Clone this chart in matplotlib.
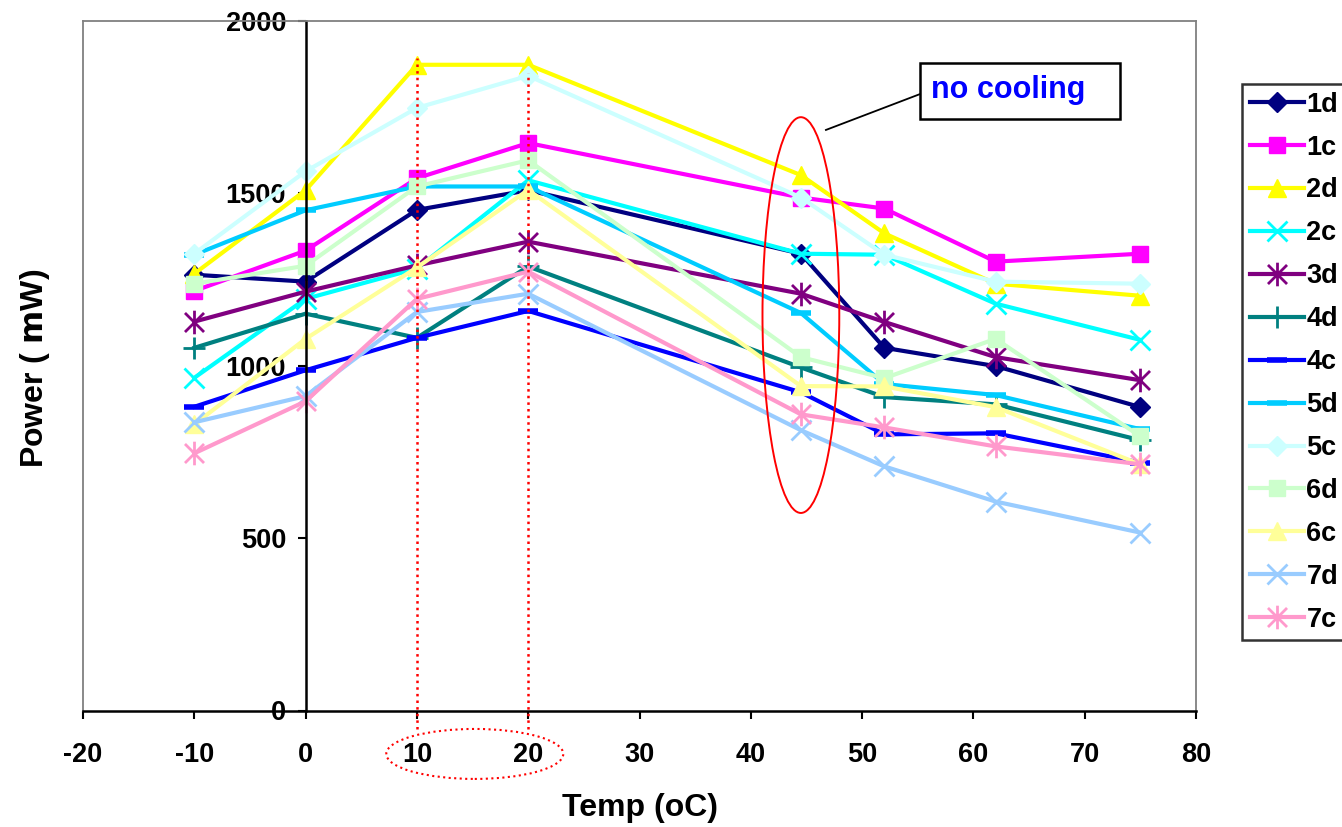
import matplotlib
matplotlib.use("Agg")
import matplotlib.pyplot as plt
from matplotlib.path import Path
from matplotlib.patches import Ellipse, Rectangle
from matplotlib.lines import Line2D

plt.rcParams['font.family'] = ['Liberation Sans', 'DejaVu Sans']
plt.rcParams['font.weight'] = 'bold'

# Measurement temperatures (oC)
temps = [-10, 0, 10, 20, 44.5, 52, 62, 75]

# Output power per device (mW)
p_1d = [1264, 1244, 1452, 1509, 1325, 1052, 999, 880]
p_1c = [1217, 1334, 1544, 1646, 1488, 1456, 1302, 1325]
p_2d = [1267, 1509, 1873, 1873, 1553, 1384, 1238, 1203]
p_2c = [965, 1194, 1282, 1538, 1325, 1322, 1180, 1075]
p_3d = [1128, 1215, 1291, 1360, 1209, 1127, 1025, 958]
p_4d = [1052, 1151, 1081, 1288, 995, 909, 888, 784]
p_4c = [881, 987, 1081, 1159, 923, 801, 804, 719]
p_5d = [1322, 1451, 1520, 1520, 1153, 947, 915, 816]
p_5c = [1325, 1564, 1748, 1841, 1488, 1322, 1244, 1238]
p_6d = [1238, 1290, 1520, 1596, 1025, 964, 1078, 795]
p_6c = [830, 1078, 1285, 1510, 941, 940, 880, 714]
p_7d = [836, 912, 1156, 1209, 813, 708, 606, 516]
p_7c = [746, 897, 1194, 1273, 859, 821, 766, 714]

labels = ['1d', '1c', '2d', '2c', '3d', '4d', '4c', '5d', '5c', '6d', '6c', '7d', '7c']
series = [p_1d, p_1c, p_2d, p_2c, p_3d, p_4d, p_4c, p_5d, p_5c, p_6d, p_6c, p_7d, p_7c]

x_ticks = [-20, -10, 0, 10, 20, 30, 40, 50, 60, 70, 80]
y_ticks = [0, 500, 1000, 1500, 2000]

# asterisk: an X with a vertical bar through it
asterisk = Path([(-0.5, -0.5), (0.5, 0.5), (-0.5, 0.5), (0.5, -0.5), (0, -0.62), (0, 0.62)],
                [Path.MOVETO, Path.LINETO, Path.MOVETO, Path.LINETO, Path.MOVETO, Path.LINETO])

styles = {
    '1d': dict(color='#000080', marker='D', ms=10),
    '1c': dict(color='#FF00FF', marker='s', ms=12),
    '2d': dict(color='#FFFF00', marker='^', ms=13),
    '2c': dict(color='#00FFFF', marker='x', ms=14, mew=2),
    '3d': dict(color='#800080', marker=asterisk, ms=17, mew=2),
    '4d': dict(color='#008080', marker='+', ms=16, mew=2),
    '4c': dict(color='#0000FF', marker='_', ms=14, mew=4),
    '5d': dict(color='#00CCFF', marker='_', ms=14, mew=4),
    '5c': dict(color='#CCFFFF', marker='D', ms=10),
    '6d': dict(color='#CCFFCC', marker='s', ms=12),
    '6c': dict(color='#FFFF99', marker='^', ms=13),
    '7d': dict(color='#99CCFF', marker='x', ms=14, mew=2),
    '7c': dict(color='#FF99CC', marker=asterisk, ms=17, mew=2),
}

fig = plt.figure(figsize=(13.42, 8.27), dpi=100)
W, H = 1342, 827
ax = fig.add_axes([83 / W, 1 - 710.5 / H, (1196 - 83) / W, (710.5 - 21) / H])

handles = []
for lab, vals in zip(labels, series):
    st = dict(styles[lab])
    c = st.pop('color')
    h, = ax.plot(temps, vals, color=c, lw=3.0, markerfacecolor=c, markeredgecolor=c,
                 label=lab, **st)
    handles.append(h)

ax.set_xlim(-20, 80)
ax.set_ylim(0, 2000)
ax.set_xticks(x_ticks)
ax.set_yticks(y_ticks)
ax.set_xticklabels([str(v) for v in x_ticks])
ax.set_yticklabels([str(v) for v in y_ticks])
ax.tick_params(axis='both', direction='out', length=6, width=1.5, labelsize=19.5, colors='black')
ax.tick_params(axis='x', pad=16.5)
ax.tick_params(axis='y', pad=8)

gray = '#808080'
ax.spines['left'].set_position(('data', 0))
ax.spines['left'].set_color('black')
ax.spines['left'].set_linewidth(1.8)
ax.spines['bottom'].set_color('black')
ax.spines['bottom'].set_linewidth(1.8)
for s in ('top', 'right'):
    ax.spines[s].set_color(gray)
    ax.spines[s].set_linewidth(1.3)
ax.add_line(Line2D([0, 0], [0, 1], transform=ax.transAxes, color=gray, lw=1.3, clip_on=False))

# reference temperatures 10 and 20 oC
for xv, ytop in ((10, 1892), (20, 1849)):
    ax.plot([xv, xv], [-54, ytop], color='red', ls=':', lw=1.8, clip_on=False, zorder=5)
ax.add_patch(Ellipse((15.2, -126), 15.9, 145, fill=False, edgecolor='red', ls=':', lw=1.5,
                     clip_on=False))

# no-cooling point
ax.add_patch(Ellipse((44.5, 1147), 6.9, 1148, fill=False, edgecolor='red', lw=1.4, zorder=6))
ax.plot([46.75, 55.2], [1684, 1788], color='black', lw=1.3, zorder=6)
ax.add_patch(Rectangle((55.2, 1715), 18.0, 163, fill=True, facecolor='white', edgecolor='black',
                       lw=1.8, zorder=6))
ax.text(56.2, 1800, 'no cooling', color='#0000FF', fontsize=22, fontweight='bold',
        va='center', ha='left', zorder=7)

fig.text(640 / W, 1 - 808 / H, 'Temp (oC)', fontsize=23, fontweight='bold', ha='center', va='center')
fig.text(35 / W, 1 - 368 / H, r'Power ( $\mathrm{m}$W)', fontsize=23, fontweight='bold',
         rotation=90, ha='center', va='center')

leg = fig.legend(handles=handles, loc='upper left', bbox_to_anchor=(1242 / W, 1 - 84 / H),
                 fontsize=19.5, frameon=True, fancybox=False, edgecolor='black',
                 handlelength=2.0, handletextpad=0.1, labelspacing=0.625, borderpad=0.28,
                 borderaxespad=0)
leg.get_frame().set_linewidth(1.8)

fig.savefig('out.png', dpi=100)
